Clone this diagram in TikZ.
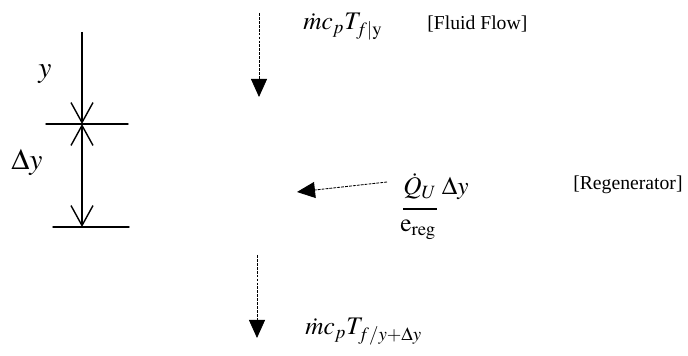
\documentclass[tikz,border=0pt]{standalone}
\usepackage{mathptmx}
\usepackage{fontspec}
\setmainfont{Liberation Serif}
\usetikzlibrary{arrows.meta,calc}
\usepackage{tkz-euclide}

\tikzset{
  txtlbl/.style={font=\fontsize{14}{16}\selectfont,inner sep=0pt},
  mathlbl/.style={font=\fontsize{18}{21}\selectfont,inner sep=0pt},
  dimlbl/.style={font=\fontsize{21}{24}\selectfont,inner sep=0pt},
  dimarrow/.style={line width=1pt,-{Straight Barb[length=0.5cm,width=0.55cm,line width=1pt]}},
  flowarrow/.style={line width=0.6pt,dash pattern=on 2pt off 0.8pt,
    -{Triangle[length=0.45cm,width=0.4cm]}}
}

\begin{document}
\begin{tikzpicture}
\useasboundingbox (0,0) rectangle (17.2,8.9);
\tkzSetUpLine[line width=1pt,color=black]

\tkzDefPoints{2.05/8.1/A,2.05/5.8/M,2.05/3.225/B}
\tkzDefPoints{1.15/5.8/L1,3.2/5.8/R1,1.325/3.225/L2,3.225/3.225/R2}
\tkzDefPoints{6.475/8.575/F1,6.475/6.475/F2,6.425/2.525/G1,6.425/0.45/G2}
\tkzDefPoints{9.675/4.35/H1,7.425/4.1/H2}

% dimension
\tkzDrawSegments(L1,R1 L2,R2)
\draw[dimarrow] (A) -- (M);
\draw[dimarrow,{Straight Barb[length=0.5cm,width=0.55cm,line width=1pt]}-{Straight Barb[length=0.5cm,width=0.55cm,line width=1pt]}] (M) -- (B);
\node[dimlbl] (ylbl) at (1.125,7.05) {$y$};
\node[dimlbl] (dylbl) at (0.675,4.85) {$\Delta y$};

% flows
\draw[flowarrow] (F1) -- (F2);
\draw[flowarrow] (G1) -- (G2);
\draw[flowarrow] (H1) -- (H2);

\node[mathlbl,anchor=base west] (top) at (7.575,8.15) {$\dot{m}c_pT_{f|\mathrm{y}}$};
\node[txtlbl,anchor=base west] (fluid) at (10.675,8.15) {[Fluid Flow]};
\node[mathlbl,anchor=base west] (heat) at (10.075,4.025) {$\dot{Q}_U$};
\node[mathlbl,anchor=base west] (heatdy) at ([xshift=0.12cm]heat.base east) {$\Delta y$};
\draw[line width=1pt] ([yshift=-0.35cm]heat.base west) -- ([yshift=-0.35cm]heat.base east);
\node[mathlbl,anchor=base west] (ereg) at (10.0,3.1) {$\mathrm{e}_{\mathrm{reg}}$};
\node[txtlbl,anchor=base west] (regen) at (14.325,4.15) {[Regenerator]};
\node[mathlbl,anchor=base west] (bot) at (7.625,0.525) {$\dot{m}c_pT_{f/y+\Delta y}$};

\end{tikzpicture}
\end{document}
